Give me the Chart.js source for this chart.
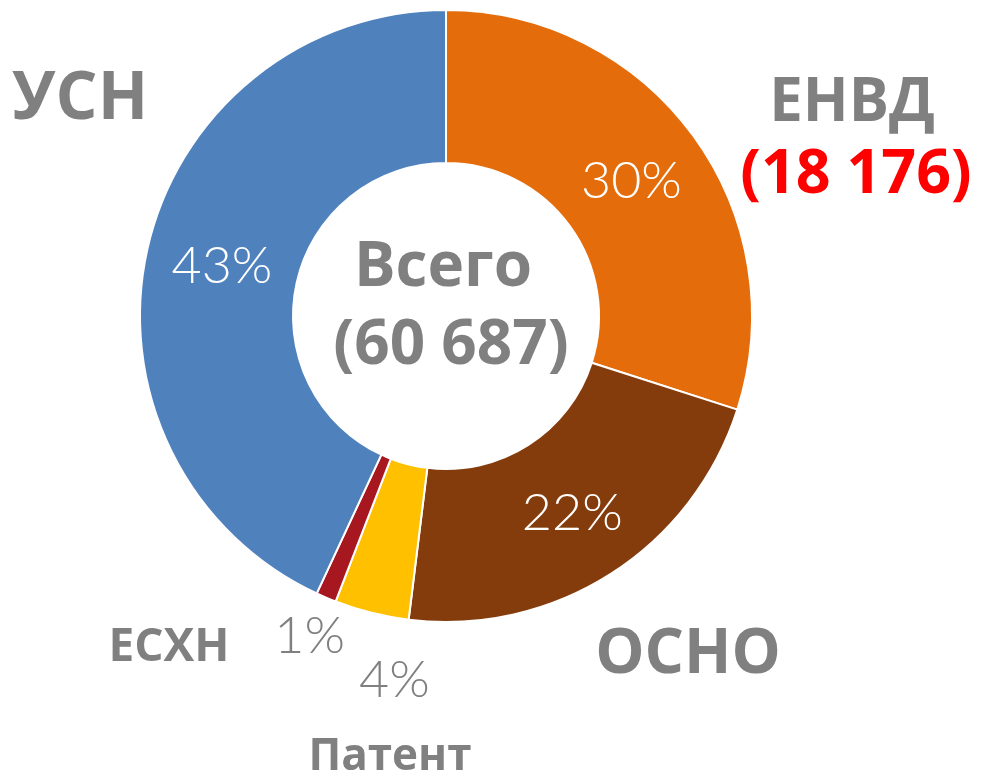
<!DOCTYPE html>
<html>
<head>
<meta charset="utf-8">
<script src="https://cdn.jsdelivr.net/npm/chart.js@4/dist/chart.umd.min.js"></script>
<style>
  html, body { margin: 0; padding: 0; background: #fff; }
  #wrap { width: 987px; height: 776px; position: relative; }
</style>
</head>
<body>
<div id="wrap"><canvas id="tax-chart" width="987" height="776"></canvas></div>
<script>
const categories = ['ЕНВД', 'ОСНО', 'Патент', 'ЕСХН', 'УСН'];
const taxpayers = [18176, 13350, 2380, 650, 26131];
const totalLabel = '60 687';
const sliceColors = ['#E46C0A', '#843C0C', '#FFC000', '#A6171F', '#4F81BD'];

const GRAY = '#808080';
const BOLD = '"Open Sans", "Noto Sans", sans-serif';
const LIGHT = 'Lato, "Open Sans", sans-serif';

// category captions around the ring (text only)
const captions = [
    { text: 'ЕНВД', x: 852, y: 104, size: 60 },
    { text: '(18 176)', x: 856, y: 176, size: 61, color: '#FF0000' },
    { text: 'ОСНО', x: 688, y: 655, size: 62 },
    { text: 'Патент', x: 390, y: 757, size: 44 },
    { text: 'ЕСХН', x: 169, y: 648, size: 46 },
    { text: 'УСН', x: 80, y: 100, size: 66 }
];

const labelsPlugin = {
    id: 'sliceLabels',
    afterDatasetsDraw(chart) {
        const ctx = chart.ctx;
        const meta = chart.getDatasetMeta(0);
        const total = taxpayers.reduce((a, b) => a + b, 0);
        ctx.save();
        ctx.textAlign = 'center';
        ctx.textBaseline = 'middle';
        meta.data.forEach((arc, i) => {
            const pct = Math.round(taxpayers[i] / total * 100) + '%';
            const mid = (arc.startAngle + arc.endAngle) / 2;
            let x, y;
            if (pct === '1%' || pct === '4%') {
                // small slices get their label outside the ring
                const shift = i === 2 ? -0.105 : 0;
                const r = arc.outerRadius + (i === 2 ? 62 : 42);
                x = arc.x + Math.cos(mid + shift) * r;
                y = arc.y + Math.sin(mid + shift) * r;
                ctx.fillStyle = GRAY;
            } else {
                const r = (arc.innerRadius + arc.outerRadius) / 2 + (i === 1 ? 5 : 0);
                x = arc.x + Math.cos(mid) * r;
                y = arc.y + Math.sin(mid) * r;
                ctx.fillStyle = '#FFFFFF';
            }
            ctx.font = '300 52px ' + LIGHT;
            ctx.fillText(pct, x, y);
        });
        // center total
        const cx = meta.data[0].x;
        const cy = meta.data[0].y;
        ctx.fillStyle = GRAY;
        ctx.font = 'bold 62px ' + BOLD;
        ctx.fillText('Всего', cx - 3, cy - 48);
        ctx.fillText('(' + totalLabel + ')', cx + 5, cy + 30);
        captions.forEach((c) => {
            ctx.fillStyle = c.color || GRAY;
            ctx.font = 'bold ' + c.size + 'px ' + BOLD;
            ctx.fillText(c.text, c.x, c.y);
        });
        ctx.restore();
    }
};

new Chart(document.getElementById('tax-chart'), {
    type: 'doughnut',
    data: {
        labels: categories,
        datasets: [{
            data: taxpayers,
            backgroundColor: sliceColors,
            borderColor: '#FFFFFF',
            borderWidth: 2
        }]
    },
    options: {
        responsive: false,
        animation: false,
        cutout: '50%',
        layout: { padding: { left: 139, right: 234, top: 9, bottom: 153 } },
        plugins: {
            legend: { display: false },
            tooltip: { enabled: false }
        }
    },
    plugins: [labelsPlugin]
});
</script>
</body>
</html>
